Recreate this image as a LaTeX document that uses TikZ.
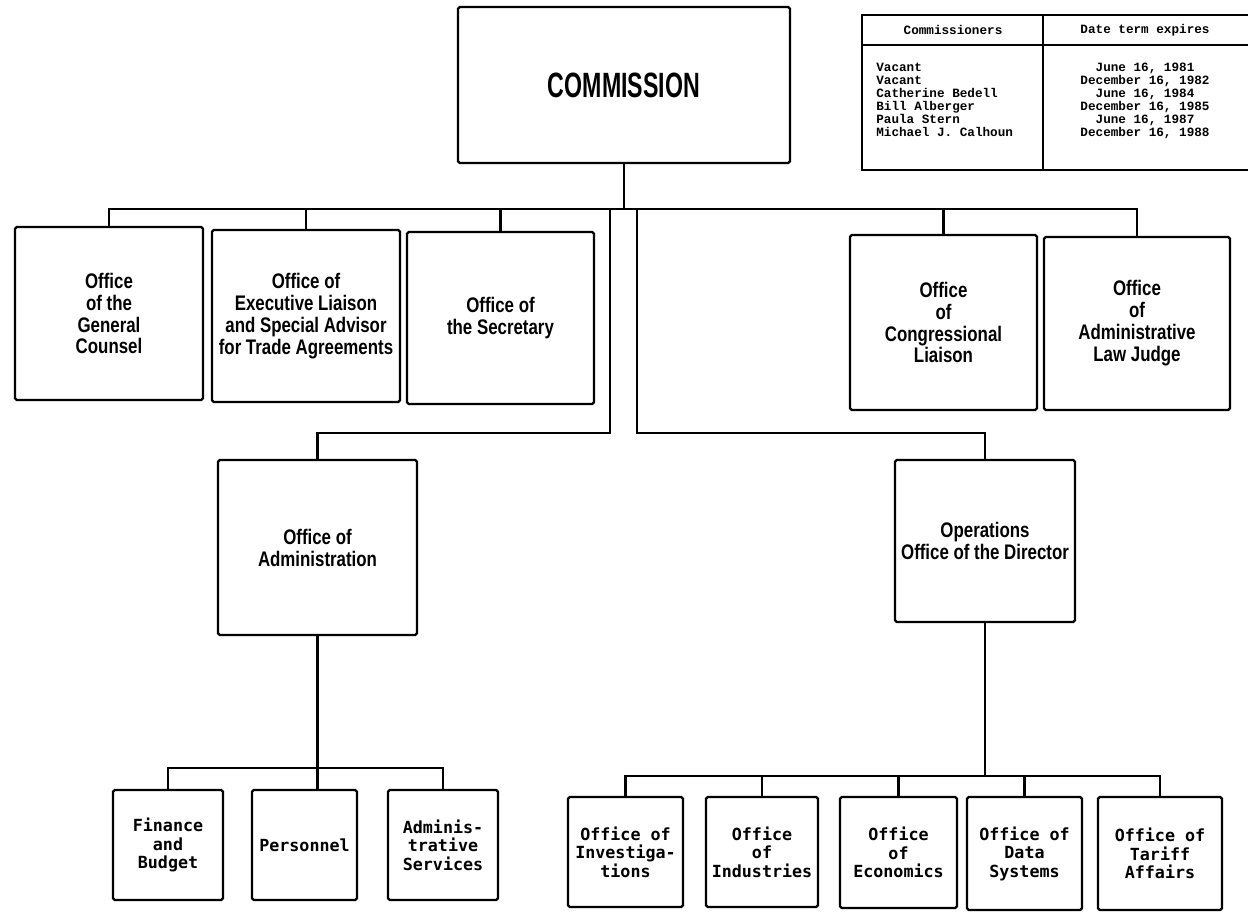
\documentclass[tikz,border=0pt]{standalone}
\usepackage{fontspec}
\newfontfamily\condfont[FakeStretch=0.8]{Liberation Sans}
\newfontfamily\commfont[FakeStretch=0.66]{Liberation Sans}
\newfontfamily\typefont{DejaVu Sans Mono}
\newfontfamily\tablefont{Liberation Mono}
\tikzset{
  wh/.style 2 args={minimum width=#1*0.02cm, minimum height=#2*0.02cm},
  office/.style={draw, line width=1.3pt, rounded corners=1pt, inner sep=0pt, align=center,
    font=\condfont\bfseries\fontsize{12}{12.5}\selectfont},
  unit/.style={office, font=\typefont\bfseries\fontsize{9.5}{10.5}\selectfont},
  link/.style={line width=1.3pt},
  rule/.style={line width=1pt},
  cell/.style={inner sep=0pt, font=\tablefont\bfseries\fontsize{7.2}{7.4}\selectfont},
}
\begin{document}
\begin{tikzpicture}[x=0.02cm,y=-0.02cm]
\useasboundingbox (0,0) rectangle (1250,916);

% Commission
\node[office, wh={332}{156}, font=\commfont\bfseries\fontsize{20}{22}\selectfont] (commission) at (624,85) {COMMISSION};

% Table of commissioners
\draw[rule] (1248,15) -- (862,15) -- (862,170) -- (1248,170);
\draw[rule] (862,45) -- (1248,45);
\draw[rule] (1043,15) -- (1043,170);
\node[cell] (hnames) at (953,30) {Commissioners};
\node[cell] (hterms) at (1145,30) {Date term expires};
\node[cell, anchor=north west, align=left] (names) at (876,63)
  {Vacant\\Vacant\\Catherine Bedell\\Bill Alberger\\Paula Stern\\Michael J. Calhoun};
\node[cell, anchor=north, align=center] (terms) at (1145,63)
  {June 16, 1981\\December 16, 1982\\June 16, 1984\\December 16, 1985\\June 16, 1987\\December 16, 1988};

% Staff offices
\node[office, wh={188}{173}] (counsel) at (109,313.5) {Office\\of the\\General\\Counsel};
\node[office, wh={188}{172}] (liaison) at (306,316) {Office of\\Executive Liaison\\and Special Advisor\\for Trade Agreements};
\node[office, wh={187}{172}] (secretary) at (500.5,318) {Office of\\the Secretary};
\node[office, wh={187}{175}] (congress) at (943.5,322.5) {Office\\of\\Congressional\\Liaison};
\node[office, wh={186}{173}] (judge) at (1137,323.5) {Office\\of\\Administrative\\Law Judge};

% Administration and operations
\node[office, wh={199}{175}] (admin) at (317.5,547.5) {Office of\\Administration};
\node[office, wh={180}{162}] (ops) at (985,541) {Operations\\Office of the Director};

% Divisions
\node[unit, wh={110}{110}] (finance) at (168,845) {Finance\\and\\Budget};
\node[unit, wh={105}{110}] (personnel) at (304.5,845) {Personnel};
\node[unit, wh={110}{110}] (services) at (443,845) {Adminis-\\trative\\Services};
\node[unit, wh={115}{110}] (invest) at (625.5,852) {Office of\\Investiga-\\tions};
\node[unit, wh={112}{110}] (industries) at (762,852) {Office\\of\\Industries};
\node[unit, wh={117}{111}] (economics) at (898.5,852.5) {Office\\of\\Economics};
\node[unit, wh={115}{113}] (datasys) at (1024.5,853.5) {Office of\\Data\\Systems};
\node[unit, wh={124}{113}] (tariff) at (1160,853.5) {Office of\\Tariff\\Affairs};

% Bars
\coordinate (topbar) at (0,209);
\coordinate (midbar) at (0,433);
\coordinate (lbar) at (0,768);
\coordinate (rbar) at (0,776);
\coordinate (lsplit) at (610,209);
\coordinate (rsplit) at (637,209);

% Commission to staff offices
\draw[link] (commission.south) -- (commission.south |- topbar);
\draw[link] (counsel.north) |- (judge.north |- topbar) -- (judge.north);
\foreach \n in {liaison,secretary,congress}
  \draw[link] (\n.north) -- (\n.north |- topbar);

% Down to administration and operations
\draw[link] (lsplit) |- (admin.north |- midbar) -- (admin.north);
\draw[link] (rsplit) |- (ops.north |- midbar) -- (ops.north);

% Administration divisions
\draw[link] (admin.south) -- (admin.south |- personnel.north);
\draw[link] (finance.north) |- (services.north |- lbar) -- (services.north);

% Operations divisions
\draw[link] (ops.south) -- (ops.south |- rbar);
\draw[link] (invest.north) |- (tariff.north |- rbar) -- (tariff.north);
\foreach \n in {industries,economics,datasys}
  \draw[link] (\n.north) -- (\n.north |- rbar);
\end{tikzpicture}
\end{document}
